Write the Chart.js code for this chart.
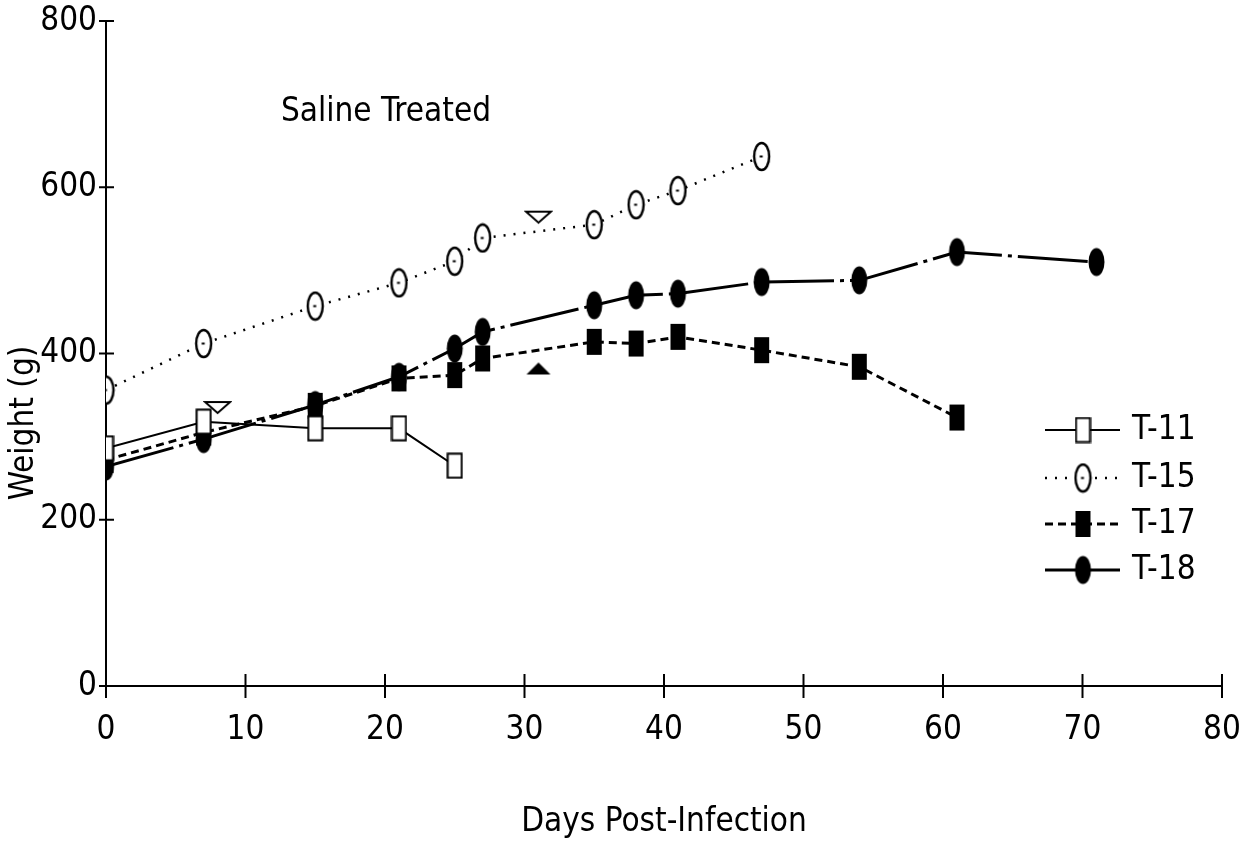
<!DOCTYPE html>
<html>
<head>
<meta charset="utf-8">
<title>Saline Treated – weight over time</title>
<script src="https://cdn.jsdelivr.net/npm/chart.js@4"></script>
<style>
  html, body { margin: 0; padding: 0; background: #fff; overflow: hidden; }
  #wrap { width: 1247px; height: 844px; position: relative; }
  #c { display: block; }
</style>
</head>
<body>
<div id="wrap"><canvas id="c"></canvas></div>
<script>
// ---- data ----
const seriesNames = ['T-11', 'T-15', 'T-17', 'T-18'];

const daysT11 = [0, 7, 15, 21, 25];
const weightT11 = [286, 318, 310, 310, 265];

const daysT15 = [0, 7, 15, 21, 25, 27, 35, 38, 41, 47];
const weightT15 = [356, 412, 457, 485, 511, 539, 555, 579, 596, 637];

const daysT17 = [0, 7, 15, 21, 25, 27, 35, 38, 41, 47, 54, 61];
const weightT17 = [272, 305, 337, 370, 374, 394, 414, 412, 420, 404, 384, 323];

const daysT18 = [0, 7, 15, 21, 25, 27, 35, 38, 41, 47, 54, 61, 71];
const weightT18 = [264, 297, 338, 372, 406, 426, 458, 470, 472, 486, 488, 522, 510];

// unlabelled extra observations
const daysOpenTri = [8, 31];
const weightOpenTri = [335, 564];
const daysFilledTri = [31];
const weightFilledTri = [382];

const xTicks = [0, 10, 20, 30, 40, 50, 60, 70, 80];
const yTicks = [0, 200, 400, 600, 800];

const chartTitle = 'Saline Treated';
const xTitle = 'Days Post-Infection';
const yTitle = 'Weight (g)';

// ---- marker glyphs ----
function glyph(w, h, draw) {
  const c = document.createElement('canvas');
  c.width = w; c.height = h;
  const g = c.getContext('2d');
  g.strokeStyle = '#000'; g.fillStyle = '#000'; g.lineWidth = 2;
  draw(g, w, h);
  return c;
}
const openSquare = glyph(17, 27, (g, w, h) => {
  g.fillStyle = '#fff'; g.fillRect(1, 1, w - 2, h - 2);
  g.strokeRect(1.5, 1.5, w - 3, h - 3);
});
const openOval = glyph(19, 31, (g, w, h) => {
  g.lineWidth = 2.4;
  g.fillStyle = '#fff';
  g.beginPath(); g.ellipse(w / 2, h / 2, w / 2 - 2, h / 2 - 2, 0, 0, Math.PI * 2);
  g.fill(); g.stroke();
  g.fillStyle = '#000'; g.fillRect(w / 2 - 2, h / 2 - 1, 3, 2);
});
const filledSquare = glyph(17, 28, (g, w, h) => { g.fillRect(1, 1, w - 2, h - 2); });
const filledOval = glyph(19, 31, (g, w, h) => {
  g.beginPath(); g.ellipse(w / 2, h / 2, w / 2 - 1.5, h / 2 - 1.5, 0, 0, Math.PI * 2); g.fill();
});
const openTriDown = glyph(29, 15, (g, w, h) => {
  g.beginPath(); g.moveTo(2, 2); g.lineTo(w - 2, 2); g.lineTo(w / 2, h - 2); g.closePath();
  g.fillStyle = '#fff'; g.fill(); g.stroke();
});
const filledTriUp = glyph(28, 14, (g, w, h) => {
  g.beginPath(); g.moveTo(2, h - 1); g.lineTo(w - 2, h - 1); g.lineTo(w / 2, 1); g.closePath(); g.fill();
});

const pts = (xs, ys) => xs.map((x, i) => ({ x, y: ys[i] }));

const FONT_FAMILY = "'Liberation Sans Narrow', 'DejaVu Sans Condensed', 'DejaVu Sans', sans-serif";
const FONT_SIZE = 33;
Chart.defaults.font.family = FONT_FAMILY;
Chart.defaults.font.size = FONT_SIZE;
Chart.defaults.color = '#000';

const datasets = [
  { label: seriesNames[0], data: pts(daysT11, weightT11), borderColor: '#000', borderWidth: 2,
    pointStyle: openSquare, order: 1 },
  { label: seriesNames[1], data: pts(daysT15, weightT15), borderColor: '#000', borderWidth: 2.5,
    borderDash: [2, 8], pointStyle: openOval, order: 4 },
  { label: seriesNames[2], data: pts(daysT17, weightT17), borderColor: '#000', borderWidth: 3,
    borderDash: [8, 5], pointStyle: filledSquare, order: 3 },
  { label: seriesNames[3], data: pts(daysT18, weightT18), borderColor: '#000', borderWidth: 3,
    borderDash: [70, 6, 4, 6], pointStyle: filledOval, order: 2 },
  { label: 'open triangles', data: pts(daysOpenTri, weightOpenTri), showLine: false,
    pointStyle: openTriDown, order: 5, inLegend: false },
  { label: 'filled triangle', data: pts(daysFilledTri, weightFilledTri), showLine: false,
    pointStyle: filledTriUp, order: 5, inLegend: false }
];
datasets.forEach(d => { d.fill = false; d.tension = 0; d.pointRadius = 10; });

// tick marks that straddle each axis line
const crossTicks = {
  id: 'crossTicks',
  afterDraw(chart) {
    const { ctx, chartArea, scales } = chart;
    ctx.save();
    ctx.strokeStyle = '#000';
    ctx.lineWidth = 2;
    scales.x.ticks.forEach(t => {
      const px = scales.x.getPixelForValue(t.value);
      ctx.beginPath(); ctx.moveTo(px, chartArea.bottom - 12); ctx.lineTo(px, chartArea.bottom + 12); ctx.stroke();
    });
    scales.y.ticks.forEach(t => {
      const py = scales.y.getPixelForValue(t.value);
      ctx.beginPath(); ctx.moveTo(chartArea.left - 7, py); ctx.lineTo(chartArea.left + 8, py); ctx.stroke();
    });
    ctx.restore();
  }
};

// free-standing caption and rotated y title
const captions = {
  id: 'captions',
  afterDraw(chart) {
    const { ctx } = chart;
    ctx.save();
    ctx.fillStyle = '#000';
    ctx.font = FONT_SIZE + 'px ' + FONT_FAMILY;
    ctx.textAlign = 'center';
    ctx.textBaseline = 'middle';
    ctx.fillText(chartTitle, 386, 112);
    ctx.translate(24, 423);
    ctx.rotate(-Math.PI / 2);
    ctx.fillText(yTitle, 0, 0);
    ctx.restore();
  }
};

// key at the right side of the plot
const sideKey = {
  id: 'sideKey',
  afterDraw(chart) {
    const { ctx } = chart;
    const rows = [430, 478, 524, 570];
    ctx.save();
    ctx.font = FONT_SIZE + 'px ' + FONT_FAMILY;
    ctx.fillStyle = '#000';
    ctx.strokeStyle = '#000';
    ctx.textAlign = 'left';
    ctx.textBaseline = 'middle';
    chart.data.datasets.filter(d => d.inLegend !== false).forEach((d, i) => {
      const y = rows[i];
      ctx.lineWidth = d.borderWidth;
      ctx.setLineDash(d.borderDash && d.borderDash[0] < 20 ? d.borderDash : []);
      ctx.beginPath(); ctx.moveTo(1045, y); ctx.lineTo(1120, y); ctx.stroke();
      ctx.setLineDash([]);
      const m = d.pointStyle;
      ctx.drawImage(m, 1083 - m.width / 2, y - m.height / 2);
      ctx.fillText(d.label, 1132, y);
    });
    ctx.restore();
  }
};

new Chart(document.getElementById('c'), {
  type: 'line',
  data: { datasets },
  plugins: [crossTicks, captions, sideKey],
  options: {
    responsive: true,
    maintainAspectRatio: false,
    animation: false,
    layout: { padding: { left: 0, right: 25, top: 21, bottom: 0 } },
    plugins: { legend: { display: false }, tooltip: { enabled: false } },
    scales: {
      x: {
        type: 'linear', min: 0, max: 80,
        afterBuildTicks: s => { s.ticks = xTicks.map(v => ({ value: v })); },
        afterFit: s => { s.height = 158; s.paddingLeft = 0; s.paddingRight = 0; },
        grid: { display: false, drawTicks: false },
        border: { display: true, color: '#000', width: 2 },
        ticks: { padding: 25, maxRotation: 0, autoSkip: false, color: '#000' },
        title: { display: true, text: xTitle, color: '#000', padding: { top: 0, bottom: 2 } }
      },
      y: {
        min: 0, max: 800,
        afterBuildTicks: s => { s.ticks = yTicks.map(v => ({ value: v })); },
        afterFit: s => { s.width = 106; s.paddingTop = 0; s.paddingBottom = 0; },
        grid: { display: false, drawTicks: false },
        border: { display: true, color: '#000', width: 2 },
        ticks: { padding: 9, autoSkip: false, color: '#000' }
      }
    }
  }
});
</script>
</body>
</html>
